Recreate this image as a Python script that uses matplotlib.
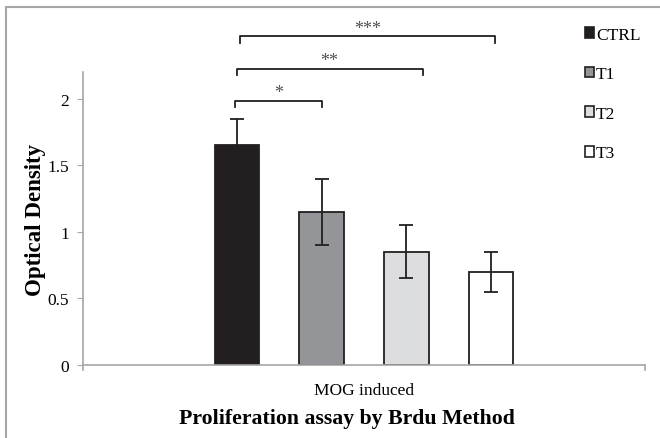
import numpy as np
import matplotlib
matplotlib.use("Agg")
import matplotlib.pyplot as plt
from matplotlib.lines import Line2D
from matplotlib.patches import Patch

plt.rcParams["font.family"] = ["Liberation Serif", "DejaVu Serif"]

# data
groups = ["CTRL", "T1", "T2", "T3"]
means = [1.65, 1.15, 0.85, 0.70]
errors = [0.20, 0.25, 0.20, 0.15]
colors = ["#231f20", "#939598", "#dcddde", "#ffffff"]
category = "MOG induced"
yticks = [0, 0.5, 1, 1.5, 2]
ytick_labels = ["0", "0.5", "1", "1.5", "2"]
# significance brackets: (start, end, label, height)
brackets = [(-0.02, 1.01, "*", 1.985), (0.0, 2.19, "**", 2.225), (0.035, 3.04, "***", 2.47)]

W, H = 660, 439
fig = plt.figure(figsize=(W / 100, H / 100), dpi=100)
ax = fig.add_axes([83 / W, (H - 366) / H, 562 / W, 293 / H])

x = np.arange(len(groups))
ax.bar(x, means, width=0.52, color=colors, edgecolor="#231f20", linewidth=1.3,
       yerr=errors, error_kw=dict(ecolor="#231f20", elinewidth=1.3, capsize=5, capthick=1.3),
       zorder=2)

ax.set_xlim(-1.81, 4.81)
ax.set_ylim(0, 2.2)
ax.set_yticks(yticks)
ax.set_yticklabels(ytick_labels, fontsize=12.5)
ax.set_xticks([1.5])
ax.set_xticklabels([category], fontsize=12.5)
ax.tick_params(axis="x", length=0, pad=12)
ax.tick_params(axis="y", length=4, color="#a6a6a6", pad=6)
for s in ["top", "right"]:
    ax.spines[s].set_visible(False)
for s in ["left", "bottom"]:
    ax.spines[s].set_color("#a6a6a6")
    ax.spines[s].set_linewidth(1.2)
# end ticks of x axis
for xe in ax.get_xlim():
    ax.plot([xe, xe], [0, -0.04], color="#a6a6a6", lw=1.2, clip_on=False)

ax.set_ylabel("Optical Density", fontsize=16.5, fontweight="bold", labelpad=1)
fig.text(347 / W, 1 - 419 / H, "Proliferation assay by Brdu Method", fontsize=15.7,
         fontweight="bold", ha="center", va="center")

for xa, xb, lab, yb in brackets:
    h = 0.05
    ax.plot([xa, xa, xb, xb], [yb - h, yb, yb, yb - h], color="#231f20", lw=1.3,
            clip_on=False, solid_joinstyle="round")
    ax.text((xa + xb) / 2, yb + 0.06, lab, ha="center", va="center", fontsize=13,
            color="#505050", clip_on=False)

handles = [Patch(facecolor=c, edgecolor="#231f20", linewidth=1.2) for c in colors]
leg = fig.legend(handles, groups, loc="upper left", bbox_to_anchor=(569 / W, 1 - 12 / H),
                 frameon=False, fontsize=12.5, handlelength=0.55, handleheight=0.55,
                 handletextpad=0.1, labelspacing=1.36)

# figure border (top and left)
fig.add_artist(Line2D([6 / W, 1], [1 - 8 / H, 1 - 8 / H], color="#a6a6a6", lw=1.5))
fig.add_artist(Line2D([6 / W, 6 / W], [0, 1 - 8 / H], color="#a6a6a6", lw=1.5))

fig.savefig("out.png", dpi=100)
